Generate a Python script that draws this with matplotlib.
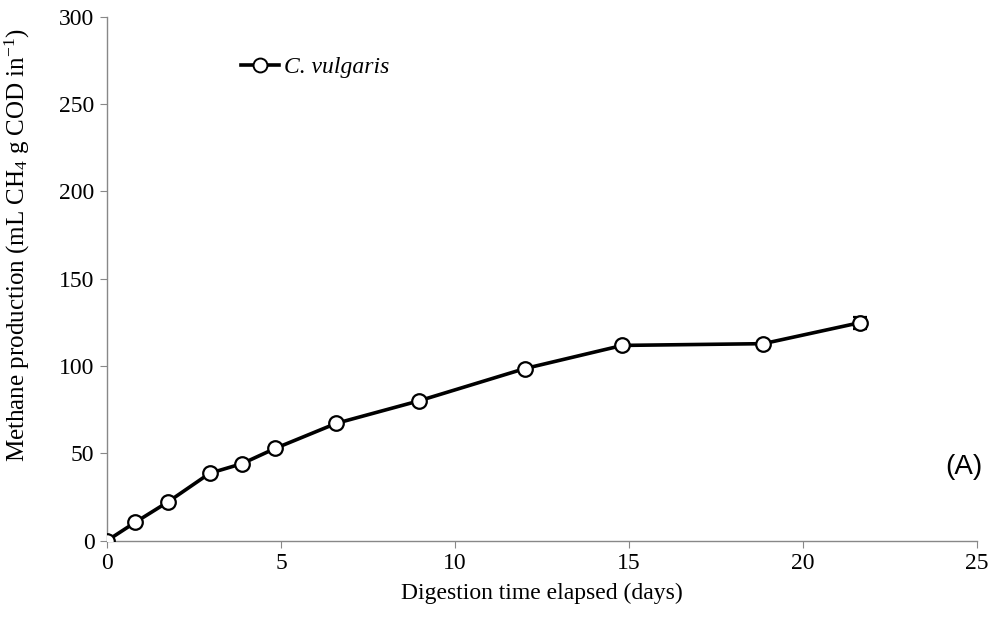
import matplotlib
matplotlib.use('Agg')
import matplotlib.pyplot as plt
from matplotlib.lines import Line2D

# digestion time (days) and cumulative methane
days = [0, 0.81, 1.76, 2.95, 3.88, 4.84, 6.59, 8.97, 12.0, 14.81, 18.86, 21.63]
methane = [0, 10.5, 22.3, 38.6, 44.1, 52.9, 67.2, 80.1, 98.5, 111.8, 112.8, 124.8]
err = [0, 0, 0, 0, 0, 0, 0, 0, 0, 0, 0, 3.5]

plt.rcParams['font.family'] = 'Liberation Serif'
plt.rcParams['mathtext.fontset'] = 'custom'
plt.rcParams['mathtext.rm'] = 'Liberation Serif'
plt.rcParams['mathtext.it'] = 'Liberation Serif:italic'

fig = plt.figure(figsize=(9.93, 6.17), dpi=100)
ax = fig.add_axes([0.1078, 0.1237, 0.8761, 0.8492])

ax.errorbar(days, methane, yerr=err, color='black', lw=2.6, marker='o', ms=10.5,
            mfc='white', mec='black', mew=1.6, capsize=5, elinewidth=1.2,
            zorder=3)

ax.set_xlim(0, 25)
ax.set_ylim(0, 300)
ax.set_xticks(range(0, 26, 5))
ax.set_yticks(range(0, 301, 50))
for s in ['top', 'right']:
    ax.spines[s].set_visible(False)
for s in ['left', 'bottom']:
    ax.spines[s].set_color('#888888')
    ax.spines[s].set_linewidth(1)
ax.tick_params(direction='out', color='#888888', length=5, labelsize=17, pad=4)

ax.set_xlabel('Digestion time elapsed (days)', fontsize=17, labelpad=6)
ax.set_ylabel('Methane production (mL CH$_4$ g COD in$^{-1}$)', fontsize=18)
ax.yaxis.set_label_coords(-0.086, 0.565)

handle = Line2D([], [], color='black', lw=2.6, marker='o', ms=10, mfc='white',
                mec='black', mew=1.4)
ax.legend([handle], ['C. vulgaris'], loc='upper left', bbox_to_anchor=(0.13, 0.965),
          frameon=False, prop={'style': 'italic', 'size': 17},
          handlelength=1.6, handletextpad=0.2)

ax.text(1.006, 0.14, '(A)', transform=ax.transAxes, fontsize=20,
        family='Liberation Sans', ha='right', va='center')

plt.savefig('out.png', dpi=100)
